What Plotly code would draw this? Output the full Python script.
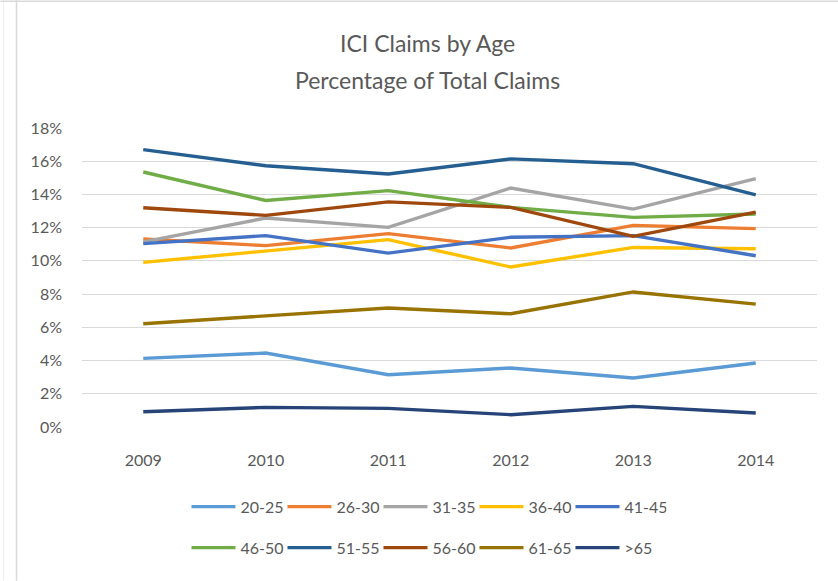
import plotly.graph_objects as go

years = ["2009", "2010", "2011", "2012", "2013", "2014"]

s_20_25 = [4.13, 4.45, 3.15, 3.55, 2.95, 3.85]
s_26_30 = [11.32, 10.92, 11.64, 10.78, 12.14, 11.94]
s_31_35 = [11.14, 12.58, 12.02, 14.39, 13.12, 14.95]
s_36_40 = [9.91, 10.61, 11.28, 9.63, 10.81, 10.73]
s_41_45 = [11.04, 11.52, 10.47, 11.42, 11.52, 10.31]
s_46_50 = [15.35, 13.64, 14.23, 13.22, 12.62, 12.82]
s_51_55 = [16.70, 15.73, 15.23, 16.14, 15.85, 13.98]
s_56_60 = [13.20, 12.74, 13.55, 13.22, 11.48, 12.94]
s_61_65 = [6.22, 6.70, 7.16, 6.82, 8.13, 7.40]
s_over65 = [0.92, 1.18, 1.12, 0.74, 1.24, 0.84]

series_names = ["20-25", "26-30", "31-35", "36-40", "41-45",
                "46-50", "51-55", "56-60", "61-65", ">65"]
series_values = [s_20_25, s_26_30, s_31_35, s_36_40, s_41_45,
                 s_46_50, s_51_55, s_56_60, s_61_65, s_over65]
colors = ["#5B9BD5", "#ED7D31", "#A5A5A5", "#FFC000", "#4472C4",
          "#70AD47", "#255E91", "#9E480E", "#997300", "#264478"]

y_ticks = [0, 2, 4, 6, 8, 10, 12, 14, 16, 18]
y_tick_labels = ["0%", "2%", "4%", "6%", "8%", "10%", "12%", "14%", "16%", "18%"]

FONT = "Lato"
TXT = "#595959"

W, H = 838, 581
L, R = 81.5, 816.7
T, B = 128.3, 427.3


def px(x):
    return (x - L) / (R - L)


def py(y):
    return (B - y) / (B - T)


fig = go.Figure()
for i, (name, vals, col) in enumerate(zip(series_names, series_values, colors)):
    fig.add_trace(go.Scatter(
        x=years, y=vals, name=name, mode="lines",
        line=dict(color=col, width=3.4),
        legend="legend" if i < 5 else "legend2",
    ))

legend_common = dict(
    orientation="h", xanchor="left", yanchor="middle",
    font=dict(family=FONT, size=16, color=TXT),
    bgcolor="rgba(0,0,0,0)", itemwidth=44, tracegroupgap=0,
    entrywidth=37, entrywidthmode="pixels",
)

fig.update_layout(
    width=W, height=H,
    margin=dict(l=L, r=W - R, t=T, b=H - B, pad=0, autoexpand=False),
    paper_bgcolor="white", plot_bgcolor="white",
    font=dict(family=FONT, size=16, color=TXT),
    showlegend=True,
    legend=dict(x=px(186), y=py(507), **legend_common),
    legend2=dict(x=px(186), y=py(548), **legend_common),
    xaxis=dict(
        type="category", range=[-0.5, 5.5], showgrid=False, showline=False,
        zeroline=False, ticks="", tickfont=dict(family=FONT, size=16, color=TXT),
        ticklabelstandoff=22,
    ),
    yaxis=dict(
        range=[0, 18], tickvals=y_ticks, ticktext=y_tick_labels, showgrid=True,
        gridcolor="#D9D9D9", gridwidth=1, zeroline=False, showline=False,
        ticks="", tickfont=dict(family=FONT, size=16, color=TXT),
        ticklabelstandoff=19,
    ),
    annotations=[
        dict(text="ICI Claims by Age", x=px(427.5), y=py(43), xref="paper", yref="paper",
             xanchor="center", yanchor="middle", showarrow=False,
             font=dict(family=FONT, size=23, color=TXT)),
        dict(text="Percentage of Total Claims", x=px(427.5), y=py(80), xref="paper", yref="paper",
             xanchor="center", yanchor="middle", showarrow=False,
             font=dict(family=FONT, size=23, color=TXT)),
    ],
    shapes=[
        dict(type="line", xref="paper", yref="paper", x0=px(16), x1=px(16), y0=py(0), y1=py(H),
             line=dict(color="#D9D9D9", width=1.5)),
        dict(type="line", xref="paper", yref="paper", x0=px(3), x1=px(3), y0=py(0), y1=py(H),
             line=dict(color="#EEEEEE", width=1)),
        dict(type="line", xref="paper", yref="paper", x0=px(0), x1=px(W), y0=py(1.5), y1=py(1.5),
             line=dict(color="#D9D9D9", width=1.5)),
    ],
)

fig.write_html("out.html", config={"displayModeBar": False},
               post_script="document.body.style.margin='0';")
